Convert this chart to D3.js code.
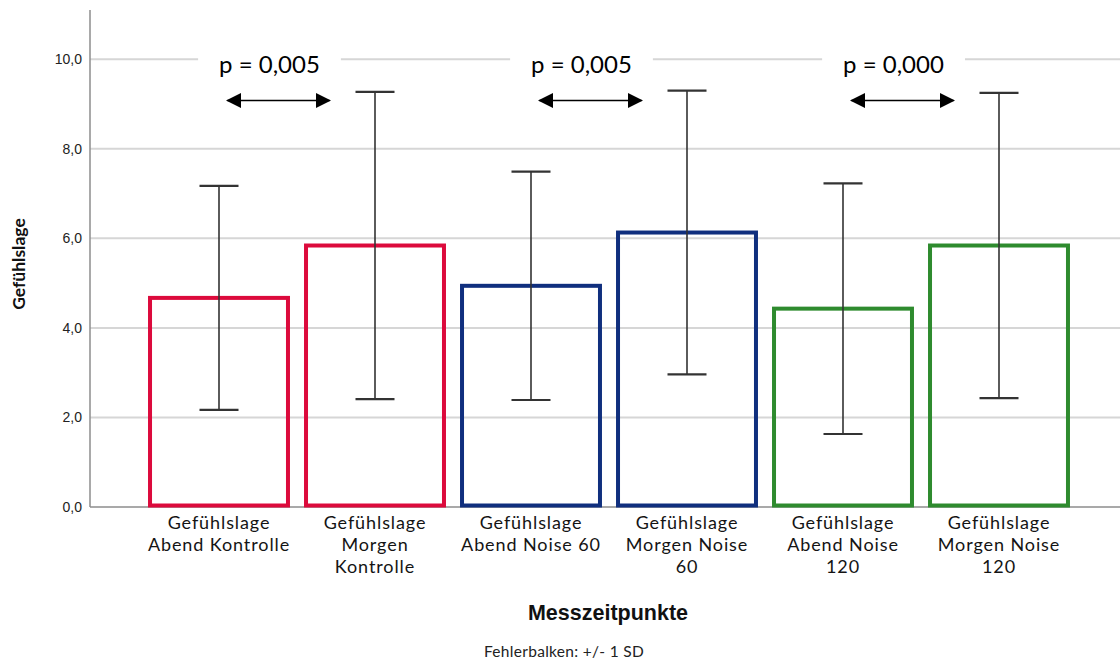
<!DOCTYPE html>
<html>
<head>
<meta charset="utf-8">
<script src="https://cdn.jsdelivr.net/npm/d3@7"></script>
<style>
  html, body { margin: 0; padding: 0; background: #fff; }
  svg { display: block; }
</style>
</head>
<body>
<svg id="chart" width="1120" height="662"></svg>
<script>
// Group labels (one per bar), line-broken as shown under the axis
const categories = [
  ["Gefühlslage", "Abend Kontrolle"],
  ["Gefühlslage", "Morgen", "Kontrolle"],
  ["Gefühlslage", "Abend Noise 60"],
  ["Gefühlslage", "Morgen Noise", "60"],
  ["Gefühlslage", "Abend Noise", "120"],
  ["Gefühlslage", "Morgen Noise", "120"]
];
// Mean Gefühlslage per measurement and its standard deviation
const means = [4.67, 5.84, 4.94, 6.13, 4.43, 5.84];
const sds   = [2.50, 3.43, 2.55, 3.17, 2.80, 3.41];
// Condition of each bar (Kontrolle / Noise 60 / Noise 120)
const groups = ["Kontrolle", "Kontrolle", "Noise 60", "Noise 60", "Noise 120", "Noise 120"];
const yTicks = [0, 2, 4, 6, 8, 10];
// Pairwise comparisons between evening and morning
const comparisons = [
  { from: 0, to: 1, label: "p = 0,005" },
  { from: 2, to: 3, label: "p = 0,005" },
  { from: 4, to: 5, label: "p = 0,000" }
];

const W = 1120, H = 662;
const svg = d3.select("#chart");
const keys = categories.map(c => c.join(" "));

const x = d3.scaleBand().domain(keys).range([141, 1077])
  .paddingInner(0.09).paddingOuter(0.045);
const y = d3.scaleLinear().domain([0, 11.1]).range([507, 10]);
const color = d3.scaleOrdinal()
  .domain(["Kontrolle", "Noise 60", "Noise 120"])
  .range(["#dc0a3c", "#102f7e", "#2e8b2e"]);
const fmt = v => d3.format(".1f")(v).replace(".", ",");

const axisX0 = 90;

// Gridlines
svg.append("g").selectAll("line")
  .data(yTicks.filter(t => t > 0))
  .join("line")
  .attr("x1", axisX0).attr("x2", W)
  .attr("y1", d => y(d)).attr("y2", d => y(d))
  .attr("stroke", "#d6d6d6").attr("stroke-width", 2);

// Y axis
const yAxis = svg.append("g")
  .attr("transform", `translate(${axisX0},0)`)
  .call(d3.axisLeft(y).tickValues(yTicks).tickFormat(fmt).tickSize(0).tickPadding(8));
yAxis.select(".domain").remove();
yAxis.selectAll("text")
  .attr("font-family", "Liberation Sans, Arial, sans-serif")
  .attr("font-size", 14).attr("fill", "#222");
svg.append("line")
  .attr("x1", axisX0).attr("x2", axisX0)
  .attr("y1", y.range()[1]).attr("y2", y(0))
  .attr("stroke", "#8c8c8c").attr("stroke-width", 1.5);

// X axis baseline
svg.append("line")
  .attr("x1", axisX0).attr("x2", W)
  .attr("y1", y(0)).attr("y2", y(0))
  .attr("stroke", "#8c8c8c").attr("stroke-width", 1.5);

// Bars (outlined)
const bars = svg.append("g");
bars.selectAll("rect")
  .data(means)
  .join("rect")
  .attr("x", (d, i) => x(keys[i]) + 2)
  .attr("width", x.bandwidth() - 4)
  .attr("y", d => y(d))
  .attr("height", d => y(0) - y(d) - 1.5)
  .attr("fill", "none")
  .attr("stroke", (d, i) => color(groups[i]))
  .attr("stroke-width", 4);

// Error bars: mean ± 1 SD
const capW = 39;
const eb = svg.append("g").attr("stroke", "#333").attr("stroke-width", 1.6);
means.forEach((m, i) => {
  const cx = x(keys[i]) + x.bandwidth() / 2;
  const hi = y(m + sds[i]), lo = y(m - sds[i]);
  eb.append("line").attr("x1", cx).attr("x2", cx).attr("y1", hi).attr("y2", lo);
  eb.append("line").attr("x1", cx - capW / 2).attr("x2", cx + capW / 2).attr("y1", hi).attr("y2", hi).attr("stroke-width", 2.2);
  eb.append("line").attr("x1", cx - capW / 2).attr("x2", cx + capW / 2).attr("y1", lo).attr("y2", lo).attr("stroke-width", 2.2);
});

// Category labels, one text element per line
const catG = svg.append("g")
  .attr("font-family", "Lato, sans-serif")
  .attr("font-size", 18).attr("letter-spacing", 0.9)
  .attr("fill", "#141414")
  .attr("text-anchor", "middle");
categories.forEach((lines, i) => {
  const cx = x(keys[i]) + x.bandwidth() / 2;
  lines.forEach((ln, j) => {
    catG.append("text").attr("x", cx).attr("y", 529 + j * 22).text(ln);
  });
});

// Comparison annotations: label on white box plus double-headed arrow
const defs = svg.append("defs");
defs.append("marker")
  .attr("id", "arrowhead")
  .attr("viewBox", "0 0 10 10").attr("refX", 9).attr("refY", 5)
  .attr("markerWidth", 9.5).attr("markerHeight", 9.5)
  .attr("markerUnits", "strokeWidth")
  .attr("orient", "auto-start-reverse")
  .append("path").attr("d", "M0,0 L10,5 L0,10 Z").attr("fill", "#000");

const ann = svg.append("g");
comparisons.forEach(c => {
  const ca = x(keys[c.from]) + x.bandwidth() / 2;
  const ax1 = ca + 7, ax2 = ca + 112;
  const mid = (ax1 + ax2) / 2;
  const txt = ann.append("text")
    .attr("x", mid - 9).attr("y", 73)
    .attr("text-anchor", "middle")
    .attr("font-family", "Lato, sans-serif")
    .attr("font-size", 24).attr("fill", "#000")
    .text(c.label);
  const bb = txt.node().getBBox();
  ann.insert("rect", () => txt.node())
    .attr("x", bb.x - 21).attr("y", bb.y)
    .attr("width", bb.width + 42).attr("height", bb.height)
    .attr("fill", "#fff");
  ann.append("line")
    .attr("x1", ax1 + 1.5).attr("x2", ax2 - 1.5)
    .attr("y1", 100.5).attr("y2", 100.5)
    .attr("stroke", "#000").attr("stroke-width", 1.6)
    .attr("marker-start", "url(#arrowhead)")
    .attr("marker-end", "url(#arrowhead)");
});

// Axis titles and footnote
svg.append("text")
  .attr("transform", "translate(25,264) rotate(-90)")
  .attr("text-anchor", "middle")
  .attr("font-family", "Lato, sans-serif")
  .attr("font-weight", "bold").attr("font-size", 17.5).attr("fill", "#111")
  .text("Gefühlslage");

svg.append("text")
  .attr("x", 608).attr("y", 620)
  .attr("text-anchor", "middle")
  .attr("font-family", "Liberation Sans, Arial, sans-serif")
  .attr("font-weight", "bold").attr("font-size", 21.5).attr("fill", "#111")
  .text("Messzeitpunkte");

svg.append("text")
  .attr("x", 564).attr("y", 657)
  .attr("text-anchor", "middle")
  .attr("font-family", "Lato, sans-serif")
  .attr("font-size", 15.5).attr("letter-spacing", 0.3).attr("fill", "#222")
  .text("Fehlerbalken: +/- 1 SD");
</script>
</body>
</html>
